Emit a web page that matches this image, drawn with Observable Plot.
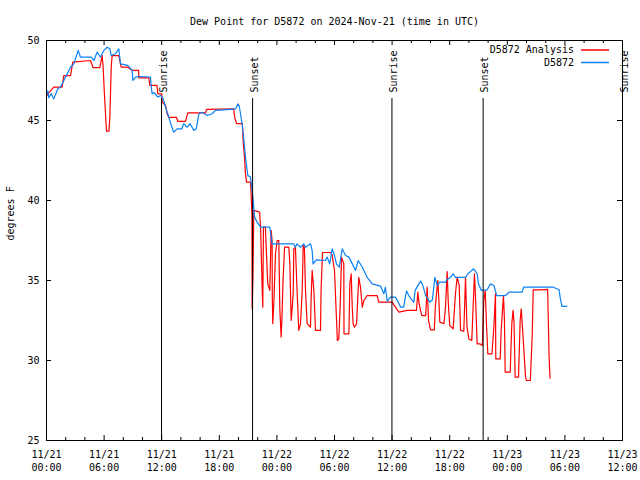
<!DOCTYPE html>
<html><head><meta charset="utf-8">
<script src="https://cdn.jsdelivr.net/npm/d3@7"></script>
<script src="https://cdn.jsdelivr.net/npm/@observablehq/plot@0.6"></script>
<style>html,body{margin:0;padding:0;background:#fff} svg{display:block}</style>
</head><body><div id="chart"></div>
<script>
const title = "Dew Point for D5872 on 2024-Nov-21 (time in UTC)";
const yLabel = "degrees F";
const startTime = "2024-11-21T00:00:00Z";
const endTime = "2024-11-23T12:00:00Z";
const yTicks = [25, 30, 35, 40, 45, 50];
const majorTickHours = [0, 6, 12, 18, 24, 30, 36, 42, 48, 54, 60];
const minorTickHours = [2, 4, 8, 10, 14, 16, 20, 22, 26, 28, 32, 34, 38, 40, 44, 46, 50, 52, 56, 58];
const seriesNames = ["D5872 Analysis", "D5872"];
const seriesColors = ["#ff0000", "#0a80f5"];

const eventLabels = ["Sunrise", "Sunset", "Sunrise", "Sunset", "Sunrise"];
const eventTimes = ["2024-11-21T11:59:00Z", "2024-11-21T21:28:00Z", "2024-11-22T11:59:00Z", "2024-11-22T21:29:00Z", "2024-11-23T12:00:00Z"];

// observed (hours since 11/21 00:00 UTC, dew point F)
const obsHours = [0.0,0.14,0.24,0.49,0.76,1.18,1.46,1.98,2.5,2.85,3.3,3.54,4.65,4.93,5.28,5.63,5.97,6.32,6.6,6.74,7.19,7.53,7.71,8.47,8.93,8.99,9.27,9.8,10.83,10.9,11.0,11.2,11.6,11.87,12.1,12.4,12.57,12.74,13.0,13.26,13.6,14.1,14.3,14.66,14.95,15.35,15.6,15.87,16.2,16.74,17.26,17.6,18.47,19.69,19.97,20.1,20.4,20.6,20.73,20.97,21.25,21.5,21.67,21.94,22.3,23.26,23.5,25.76,25.93,26.1,26.45,26.8,26.98,27.5,27.67,27.77,28.1,29.06,29.24,29.5,29.76,30.0,30.2,30.5,30.8,31.15,31.5,31.85,32.19,32.47,32.9,33.4,33.93,34.8,35.14,35.3,35.5,35.83,36.35,36.55,36.9,37.2,37.5,37.74,38.1,38.26,38.4,38.96,39.2,39.5,39.93,40.2,40.45,40.7,40.97,41.56,41.7,42.08,42.36,42.6,43.65,43.9,44.3,44.5,44.86,45.0,45.3,45.9,46.25,46.6,46.9,47.8,48.2,49.55,49.7,52.8,53.4,53.5,53.7,54.2];
const obsDew = [46.6,46.85,46.42,46.67,46.35,46.98,47.08,47.71,48.33,48.54,49.38,48.96,48.96,48.75,49.27,48.96,49.38,49.58,49.48,49.06,49.17,49.48,48.54,48.44,48.13,47.5,47.71,47.75,47.71,47.19,46.67,46.75,46.46,46.56,46.46,45.83,45.52,45.2,44.69,44.27,44.48,44.48,44.8,44.58,44.8,44.38,44.48,45.42,45.52,45.31,45.42,45.63,45.67,45.73,46.04,45.83,44.7,43.54,42.7,41.56,41.46,40.2,38.96,38.65,38.33,38.33,37.29,37.29,37.08,37.29,37.08,37.29,37.08,37.29,36.88,36.04,36.29,36.25,36.46,36.04,36.98,36.56,36.04,35.83,36.98,36.56,36.46,36.04,35.63,36.25,35.83,35.2,34.79,34.65,34.17,34.58,33.7,33.96,33.96,33.75,33.33,33.33,34.35,34.06,33.75,33.65,34.38,34.96,34.7,34.06,33.65,33.8,35.2,34.69,34.9,34.9,35.04,35.2,35.42,35.2,35.2,35.42,35.63,35.73,35.42,34.79,34.38,34.42,34.79,34.69,34.06,34.06,34.27,34.27,34.58,34.58,34.42,33.96,33.38,33.38];

// analysis (hours since 11/21 00:00 UTC, dew point F)
const anaHours = [0.0,0.14,0.76,1.63,1.8,2.5,2.74,4.58,4.86,5.55,5.8,5.9,6.04,6.25,6.5,6.6,6.74,6.84,7.53,7.78,8.47,8.93,9.6,9.61,10.66,10.76,11.5,11.6,12.0,12.05,12.4,12.57,12.74,13.54,13.68,14.48,14.72,16.56,16.67,19.5,19.6,19.8,20.4,20.5,20.6,20.73,20.83,21.25,21.3,21.4,21.42,21.5,21.6,22.2,22.3,22.47,22.53,22.6,22.8,22.9,23.05,23.26,23.4,23.5,23.52,23.57,23.7,23.85,24.03,24.2,24.3,24.44,24.54,24.64,24.8,25.24,25.35,25.49,25.6,25.7,25.76,25.93,26.1,26.28,26.46,26.64,26.74,26.86,26.98,27.15,27.5,27.57,27.67,27.85,28.02,28.54,28.6,28.75,29.58,29.75,30.0,30.2,30.3,30.45,30.6,30.73,30.97,30.99,31.5,31.6,31.74,31.85,31.94,32.08,32.3,32.43,32.53,32.7,32.9,33.06,33.4,34.45,34.6,36.0,36.7,37.57,38.54,38.68,38.8,38.96,39.1,39.5,39.65,39.8,40.0,40.4,40.5,40.76,40.87,40.97,41.4,41.56,41.74,41.84,42.0,42.36,42.6,42.78,42.99,43.13,43.47,43.65,43.8,44.0,44.3,44.45,44.58,44.7,44.86,45.14,45.4,45.45,45.55,45.7,45.85,45.97,46.4,46.6,46.77,46.79,46.8,47.26,47.36,47.5,47.6,47.7,47.78,48.3,48.47,48.6,48.7,48.82,49.17,49.34,49.45,49.6,49.9,50.0,50.4,50.6,50.7,51.46,52.2,52.25,52.35,52.45];
const anaDew = [46.5,46.67,47.08,47.08,47.8,47.8,48.65,48.75,48.3,48.3,49.06,48.33,46.56,44.33,44.33,45.2,48.33,49.06,49.06,48.33,48.33,48.13,48.13,47.67,47.67,47.2,47.2,46.67,46.67,46.15,45.94,45.42,45.2,45.2,44.94,44.94,45.48,45.48,45.69,45.73,45.2,44.8,44.8,43.54,42.9,41.67,41.15,41.15,40.63,39.06,33.23,35.2,39.38,39.27,38.33,34.38,33.33,38.33,38.33,36.88,34.79,34.38,38.13,37.5,33.96,32.3,33.9,36.67,37.5,37.5,33.33,31.46,32.9,35.0,37.08,37.08,36.04,32.5,33.33,34.2,36.98,37.08,34.38,31.88,32.3,34.4,37.19,37.08,34.38,32.3,32.08,33.96,35.63,34.4,31.88,31.88,34.38,36.75,36.75,36.6,35.63,32.7,31.25,31.35,33.54,36.46,36.04,31.67,31.67,34.79,35.42,33.3,32.3,32.08,32.3,33.96,35.2,34.6,33.33,33.75,34.06,34.06,33.65,33.65,33.02,33.13,33.13,34.27,33.6,33.13,32.8,32.8,34.58,32.5,31.92,31.92,33.33,35.0,33.8,32.4,32.3,33.3,35.56,33.75,32.19,31.98,34.17,35.2,34.69,31.88,31.83,35.2,32.08,31.35,31.25,33.5,35.42,33.8,31.04,31.04,30.94,31.9,33.75,34.38,32.0,30.42,30.42,32.08,34.17,31.5,30.1,30.1,31.88,33.13,34.06,32.6,29.27,29.27,32.3,33.13,32.4,28.96,28.96,32.5,33.23,31.9,28.96,28.75,28.75,31.67,34.42,34.42,34.45,33.1,30.3,28.9];

const t0 = new Date(startTime);
const t1 = new Date(endTime);
const toDate = h => new Date(+t0 + h * 3600e3);
const obs = obsHours.map((h, i) => ({time: toDate(h), dew: obsDew[i]}));
const ana = anaHours.map((h, i) => ({time: toDate(h), dew: anaDew[i]}));
const events = eventTimes.map((t, i) => ({time: new Date(t), label: eventLabels[i]}));
const majorTicks = majorTickHours.map(toDate);
const minorTicks = minorTickHours.map(toDate);

const W = 640, H = 480, mL = 46, mR = 18, mT = 40, mB = 40;
const fw = W - mL - mR, fh = H - mT - mB;
const font = "'DejaVu Sans Mono', monospace";

const plot = Plot.plot({
  width: W, height: H,
  marginTop: mT, marginBottom: mB, marginLeft: mL, marginRight: mR,
  style: {fontFamily: font, fontSize: "10px", background: "white", color: "black", overflow: "visible"},
  x: {type: "utc", domain: [t0, t1]},
  y: {domain: [25, 50]},
  marks: [
    Plot.line(ana, {x: "time", y: "dew", stroke: seriesColors[0], strokeWidth: 1.2}),
    Plot.line(obs, {x: "time", y: "dew", stroke: seriesColors[1], strokeWidth: 1.2}),
    Plot.ruleX(events, {x: "time", insetTop: 58, stroke: "black", strokeWidth: 1}),
    Plot.text(events, {x: "time", text: "label", frameAnchor: "top", rotate: -90, textAnchor: "start", dy: 52, dx: -2, fontSize: 10}),
    Plot.ruleX(majorTicks, {insetTop: fh - 5, stroke: "black"}),
    Plot.ruleX(majorTicks, {insetBottom: fh - 5, stroke: "black"}),
    Plot.ruleX(minorTicks, {insetTop: fh - 3, stroke: "black"}),
    Plot.ruleX(minorTicks, {insetBottom: fh - 3, stroke: "black"}),
    Plot.ruleY(yTicks, {insetRight: fw - 5, stroke: "black"}),
    Plot.ruleY(yTicks, {insetLeft: fw - 5, stroke: "black"}),
    Plot.axisX(majorTicks, {tickSize: 0, tickPadding: 8, tickFormat: d3.utcFormat("%m/%d\n%H:%M"), label: null, lineHeight: 1.3, fontSize: 10}),
    Plot.axisY(yTicks, {tickSize: 0, tickPadding: 7, label: null, fontSize: 10}),
    Plot.frame({stroke: "black"}),
    Plot.text([title], {frameAnchor: "top", dy: -23, fontSize: 10}),
    Plot.text([yLabel], {frameAnchor: "left", rotate: -90, dx: -36, fontSize: 10})
  ]
});
document.getElementById("chart").appendChild(plot);

// legend (top-right, inside frame)
const svg = d3.select(plot);
const lg = svg.append("g").attr("font-family", font).attr("font-size", 10);
seriesNames.forEach((name, i) => {
  const y = 50 + i * 12.5;
  lg.append("text").attr("x", 574).attr("y", y).attr("dy", "0.32em").attr("text-anchor", "end").attr("fill", "black").text(name);
  lg.append("line").attr("x1", 581).attr("x2", 609).attr("y1", y).attr("y2", y).attr("stroke", seriesColors[i]).attr("stroke-width", 1.5);
});
</script>
</body></html>
